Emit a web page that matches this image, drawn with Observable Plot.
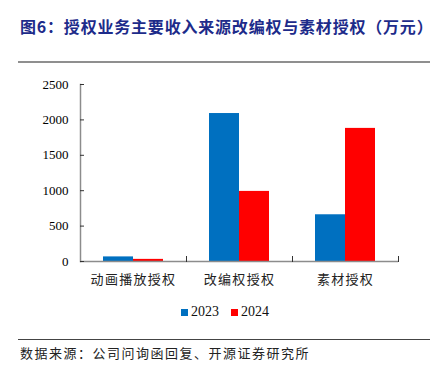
<!DOCTYPE html>
<html>
<head>
<meta charset="utf-8">
<script src="https://cdn.jsdelivr.net/npm/d3@7"></script>
<script src="https://cdn.jsdelivr.net/npm/@observablehq/plot@0.6"></script>
<style>
  html, body { margin: 0; padding: 0; background: #fff; }
  #wrap { position: relative; width: 438px; height: 367px; overflow: hidden; background: #fff; }
  #title { position: absolute; left: 20px; top: 16px; line-height: 20px; font-family: "Noto Sans CJK SC", sans-serif; font-weight: 700; font-size: 16px; color: #1d2b8a; letter-spacing: 0.8px; white-space: nowrap; }
  #rule1 { position: absolute; left: 18px; top: 60.5px; width: 412px; height: 2px; background: #8f8f8f; }
  #chart { position: absolute; left: 0; top: 70px; }
  #legend { position: absolute; left: 0; width: 438px; top: 303px; height: 18px; display: flex; justify-content: center; align-items: center; font-family: "Liberation Serif", serif; font-size: 14px; color: #111; padding-left: 12px; box-sizing: border-box; }
  #legend .item { display: inline-flex; align-items: center; margin: 0 6px; }
  #legend .sw { width: 7px; height: 7px; margin-right: 3px; display: inline-block; }
  #rule2 { position: absolute; left: 18px; top: 338.5px; width: 412px; height: 1px; background: #444; }
  #source { position: absolute; left: 20px; top: 344px; line-height: 17px; font-family: "Noto Sans CJK SC", sans-serif; font-size: 13px; color: #222; letter-spacing: 1.5px; white-space: nowrap; }
  #chart g[aria-label="fx-axis tick label"] text { letter-spacing: 1.3px; }
</style>
</head>
<body>
<div id="wrap">
  <div id="title"></div>
  <div id="rule1"></div>
  <div id="chart"></div>
  <div id="legend"></div>
  <div id="rule2"></div>
  <div id="source"></div>
</div>
<script>
const titleText = "图6：授权业务主要收入来源改编权与素材授权（万元）";
const sourceText = "数据来源：公司问询函回复、开源证券研究所";
const categories = ["动画播放授权", "改编权授权", "素材授权"];
const years = ["2023", "2024"];
const values2023 = [65, 2090, 660];
const values2024 = [30, 990, 1880];
const yTicks = [0, 500, 1000, 1500, 2000, 2500];
const colors = ["#0070C0", "#FF0000"];

document.getElementById("title").textContent = titleText;
document.getElementById("source").textContent = sourceText;

const rows = [];
categories.forEach((c, i) => {
  rows.push({category: c, year: years[0], value: values2023[i]});
  rows.push({category: c, year: years[1], value: values2024[i]});
});

const width = 438, height = 220;
const marginTop = 14, marginBottom = 29, marginLeft = 79, marginRight = 40;
const innerH = height - marginTop - marginBottom;

const chart = Plot.plot({
  width, height, marginTop, marginBottom, marginLeft, marginRight,
  style: {background: "transparent", overflow: "visible"},
  fx: {domain: categories, padding: 0, label: null},
  x: {domain: years, paddingInner: 0, paddingOuter: 0.75, axis: null},
  y: {domain: [0, 2500], label: null},
  color: {domain: years, range: colors},
  marks: [
    Plot.barY(rows, {fx: "category", x: "year", y: "value", fill: "year"}),
    Plot.ruleY([0], {stroke: "#8c8c8c", strokeWidth: 1.5}),
    Plot.frame({anchor: "left", facetAnchor: "left", stroke: "#8c8c8c", strokeWidth: 1.5}),
    Plot.frame({anchor: "right", stroke: "#333", strokeWidth: 1, insetTop: innerH - 5}),
    Plot.axisY(yTicks, {tickSize: -4, tickPadding: 16, tickFormat: d => String(d), stroke: "#333", fontSize: 13, fontFamily: "Liberation Serif, serif", fill: "#000", label: null}),
    Plot.axisFx({anchor: "bottom", tickSize: 0, tickPadding: 13, fontSize: 13, fontFamily: "Noto Sans CJK SC, sans-serif", fill: "#222", label: null})
  ]
});
document.getElementById("chart").appendChild(chart);

const legend = document.getElementById("legend");
years.forEach((y, i) => {
  const item = document.createElement("span");
  item.className = "item";
  const sw = document.createElement("span");
  sw.className = "sw";
  sw.style.background = colors[i];
  item.appendChild(sw);
  item.appendChild(document.createTextNode(y));
  legend.appendChild(item);
});
</script>
</body>
</html>
